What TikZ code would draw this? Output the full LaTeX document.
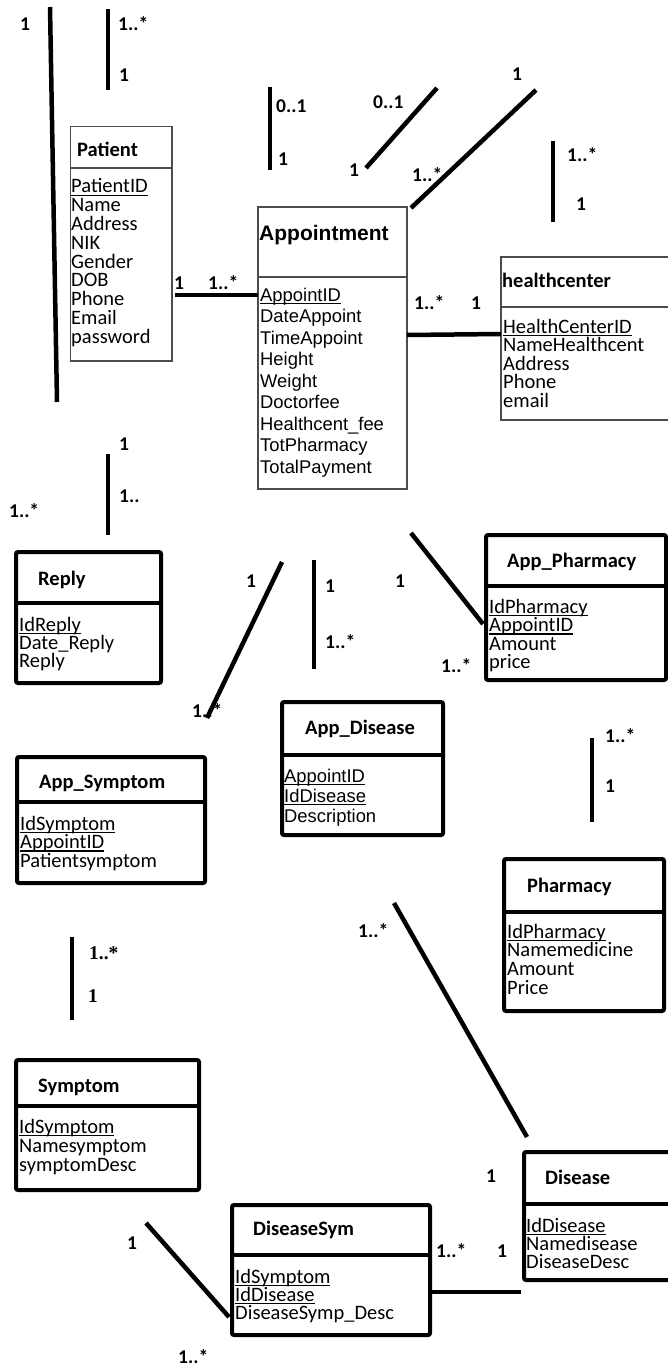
\documentclass[tikz,border=0pt]{standalone}
\usepackage{fontspec}
\setmainfont{Carlito}
\newfontfamily\arialf{Liberation Sans}
\newfontfamily\serf{Liberation Serif}
\newcommand\ulk[1]{\setbox0=\hbox{#1}\rlap{\rule[-3pt]{\wd0}{1.3pt}}\box0}
\newcommand\attrs[6][]{%
  \foreach \t [count=\i] in {#6} \node[attr,#1] (#2-\i) at (#3,{#4+#5*(\i-1)}) {\t};}
\begin{document}
\begin{tikzpicture}[x=1pt,y=-1pt,
  conn/.style={line width=4.5pt, line cap=butt},
  thinbox/.style={draw=black!70, line width=1.1pt, rectangle, inner sep=0, outer sep=0, anchor=north west},
  thickbox/.style={draw=black, line width=4pt, rectangle, rounded corners=2pt, inner sep=0, outer sep=0, anchor=north west},
  ttl/.style={anchor=base west, inner sep=0, font=\bfseries\fontsize{20.5}{22}\selectfont},
  attr/.style={anchor=base west, inner sep=0, font=\fontsize{20.5}{22}\selectfont},
  aattr/.style={font=\arialf\fontsize{18.4}{20}\selectfont},
  lbl/.style={anchor=base west, inner sep=0, font=\bfseries\fontsize{19.5}{21}\selectfont},
  slbl/.style={lbl, font=\serf\bfseries\fontsize{19.5}{21}\selectfont}]
\fill[white] (0,0) rectangle (668,1367);
\useasboundingbox (0,0) rectangle (668,1367);

% ---------- boxes ----------
\node[thinbox, minimum width=101.5pt, minimum height=234.5pt] (patient) at (70.5,126.5) {};
\draw[draw=black!70, line width=1.1pt] (patient.west |- 0,168) -- (patient.east |- 0,168);
\node[thinbox, minimum width=149pt, minimum height=282pt] (appointment) at (258,207) {};
\draw[draw=black!70, line width=1.1pt] (appointment.west |- 0,277) -- (appointment.east |- 0,277);
\node[thinbox, minimum width=171pt, minimum height=163pt] (healthcenter) at (501,257) {};
\draw[draw=black!70, line width=1.1pt] (healthcenter.west |- 0,307) -- (healthcenter.east |- 0,307);

\node[thickbox, minimum width=145pt, minimum height=131pt] (reply) at (16,552) {};
\draw[line width=4pt] (reply.west |- 0,603) -- (reply.east |- 0,603);
\node[thickbox, minimum width=188pt, minimum height=126pt] (appsym) at (17,757) {};
\draw[line width=4pt] (appsym.west |- 0,802) -- (appsym.east |- 0,802);
\node[thickbox, minimum width=161pt, minimum height=133pt] (appdis) at (282,702) {};
\draw[line width=4pt] (appdis.west |- 0,755) -- (appdis.east |- 0,755);
\node[thickbox, minimum width=180pt, minimum height=145pt] (apphar) at (486,535) {};
\draw[line width=4pt] (apphar.west |- 0,586) -- (apphar.east |- 0,586);
\node[thickbox, minimum width=160pt, minimum height=152pt] (pharm) at (504,859) {};
\draw[line width=4pt] (pharm.west |- 0,912) -- (pharm.east |- 0,912);
\node[thickbox, minimum width=183pt, minimum height=130pt] (symptom) at (16,1060) {};
\draw[line width=4pt] (symptom.west |- 0,1106) -- (symptom.east |- 0,1106);
\node[thickbox, minimum width=198pt, minimum height=130pt] (dissym) at (232,1205) {};
\draw[line width=4pt] (dissym.west |- 0,1255) -- (dissym.east |- 0,1255);
\node[thickbox, minimum width=148pt, minimum height=128pt] (disease) at (524,1152) {};
\draw[line width=4pt] (disease.west |- 0,1204) -- (disease.east |- 0,1204);

% ---------- titles ----------
\node[ttl] (t-patient) at (77,157) {Patient};
\node[ttl, font=\arialf\bfseries\fontsize{21}{23}\selectfont] (t-app) at (259,240) {Appointment};
\node[ttl] (t-hc) at (502,287) {healthcenter};
\node[ttl] (t-reply) at (38,585) {Reply};
\node[ttl] (t-appsym) at (39,788) {App\_Symptom};
\node[ttl] (t-appdis) at (305,734) {App\_Disease};
\node[ttl] (t-apphar) at (507,567) {App\_Pharmacy};
\node[ttl] (t-pharm) at (527,892) {Pharmacy};
\node[ttl] (t-symptom) at (38,1092) {Symptom};
\node[ttl] (t-dissym) at (253,1235) {DiseaseSym};
\node[ttl] (t-disease) at (545,1184) {Disease};

% ---------- attributes ----------
\attrs{pa}{71}{193}{18.75}{\ulk{PatientID},Name,Address,NIK,Gender,DOB,Phone,Email,password}
\attrs[aattr]{ap}{260}{301}{21.5}{\ulk{AppointID},DateAppoint,TimeAppoint,Height,Weight,Doctorfee,Healthcent\_fee,TotPharmacy,TotalPayment}
\attrs{hc}{503}{333}{18.6}{\ulk{HealthCenterID},NameHealthcent,Address,Phone,email}
\attrs{re}{19}{631}{18}{\ulk{IdReply},Date\_Reply,Reply}
\attrs{as}{20}{830}{18.5}{\ulk{IdSymptom},\ulk{AppointID},Patientsymptom}
\attrs[aattr]{ad}{284}{782}{20}{\ulk{AppointID},\ulk{IdDisease},Description}
\attrs{ah}{489}{613}{18.5}{\ulk{IdPharmacy},\ulk{AppointID},Amount,price}
\attrs{ph}{507}{938}{18.7}{\ulk{IdPharmacy},Namemedicine,Amount,Price}
\attrs{sy}{19}{1133}{19}{\ulk{IdSymptom},Namesymptom,symptomDesc}
\attrs{ds}{235}{1283}{18}{\ulk{IdSymptom},\ulk{IdDisease},DiseaseSymp\_Desc}
\attrs{di}{526}{1232}{18}{\ulk{IdDisease},Namedisease,DiseaseDesc}

% ---------- connectors ----------
\coordinate (c1a) at (50,7);    \coordinate (c1b) at (57,402);
\coordinate (c2a) at (108,9);   \coordinate (c2b) at (108,90);
\coordinate (c3a) at (270,87);  \coordinate (c3b) at (270,170);
\coordinate (c4a) at (366,168); \coordinate (c4b) at (437,88);
\coordinate (c5a) at (411,208); \coordinate (c5b) at (536,90);
\coordinate (c6a) at (553,141); \coordinate (c6b) at (553,222);
\coordinate (c7a) at (175,295); \coordinate (c7b) at (258,295);
\coordinate (c8a) at (407,335); \coordinate (c8b) at (501,334);
\coordinate (c9a) at (108,454); \coordinate (c9b) at (108,535);
\coordinate (c10a) at (282,562); \coordinate (c10b) at (207,718);
\coordinate (c11a) at (314,560); \coordinate (c11b) at (314,669);
\coordinate (c12a) at (411,533); \coordinate (c12b) at (483,624);
\coordinate (c13a) at (592,738); \coordinate (c13b) at (592,822);
\coordinate (c14a) at (72,937);  \coordinate (c14b) at (72,1020);
\coordinate (c15a) at (394,903); \coordinate (c15b) at (527,1137);
\coordinate (c16a) at (146,1223); \coordinate (c16b) at (229,1317);
\coordinate (c17a) at (432,1292); \coordinate (c17b) at (521,1292);
\foreach \k in {1,...,17} \draw[conn] (c\k a) -- (c\k b);

% ---------- multiplicities ----------
\node[lbl] (m1) at (20,31) {1};
\node[lbl] (m2a) at (118,31) {1..*};
\node[lbl] (m2b) at (119,82) {1};
\node[lbl] (m3a) at (276,113) {0..1};
\node[lbl] (m3b) at (278,166) {1};
\node[lbl] (m4a) at (373,109) {0..1};
\node[lbl] (m4b) at (349,177) {1};
\node[lbl] (m5a) at (512,81) {1};
\node[lbl] (m5b) at (412,182) {1..*};
\node[lbl] (m6a) at (567,162) {1..*};
\node[lbl] (m6b) at (576,211) {1};
\node[lbl] (m7a) at (174,289) {1};
\node[lbl] (m7b) at (208,289) {1..*};
\node[lbl] (m8a) at (414,309) {1..*};
\node[lbl] (m8b) at (471,309) {1};
\node[lbl] (m9a) at (119,450) {1};
\node[lbl] (m9b) at (119,502) {1..};
\node[lbl] (m9c) at (9,517) {1..*};
\node[lbl] (m10a) at (246,587) {1};
\node[lbl] (m10b) at (192,717) {1..*};
\node[lbl] (m11a) at (325,592) {1};
\node[lbl] (m11b) at (325,648) {1..*};
\node[lbl] (m12a) at (395,587) {1};
\node[lbl] (m12b) at (441,672) {1..*};
\node[lbl] (m13a) at (605,742) {1..*};
\node[lbl] (m13b) at (605,792) {1};
\node[slbl] (m14a) at (89,959) {1..*};
\node[slbl] (m14b) at (88,1002) {1};
\node[lbl] (m15a) at (358,937) {1..*};
\node[lbl] (m15b) at (486,1182) {1};
\node[lbl] (m16a) at (127,1249) {1};
\node[lbl] (m16b) at (178,1363) {1..*};
\node[lbl] (m17a) at (436,1257) {1..*};
\node[lbl] (m17b) at (497,1257) {1};
\end{tikzpicture}
\end{document}
